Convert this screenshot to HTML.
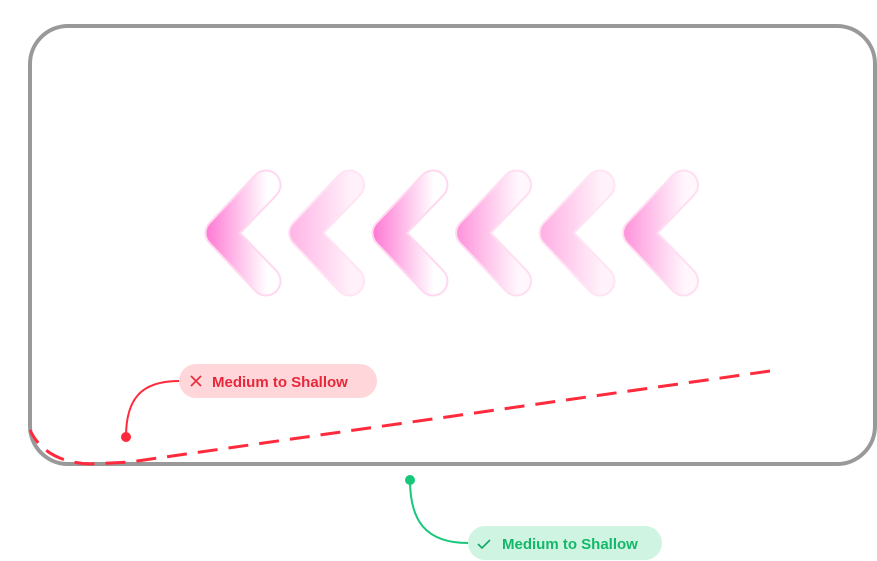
<!DOCTYPE html>
<html><head><style>
html,body{margin:0;padding:0;background:#fff;}
svg{display:block;}
text{font-family:"Liberation Sans",sans-serif;font-weight:bold;}
</style></head><body>
<svg width="877" height="561" viewBox="0 0 877 561" xmlns="http://www.w3.org/2000/svg">
<defs>
<linearGradient id="g" gradientUnits="userSpaceOnUse" x1="201" y1="0" x2="279" y2="0">
<stop offset="0" stop-color="#ff6ed0"/><stop offset="0.85" stop-color="#fff"/><stop offset="1" stop-color="#fff"/>
</linearGradient>
<path id="c" d="M266 185 L220 233 L266 281"/>
</defs>
<rect x="30" y="26" width="845" height="438" rx="38" fill="none" stroke="#999" stroke-width="4"/>
<g fill="none" stroke-linejoin="round" stroke-linecap="round">
<g stroke="#ffd8f0" stroke-width="31">
<use href="#c" opacity="1"/>
<use href="#c" transform="translate(83.5,0)" opacity="0.7"/>
<use href="#c" transform="translate(167,0)" opacity="1"/>
<use href="#c" transform="translate(250.5,0)" opacity="0.85"/>
<use href="#c" transform="translate(334,0)" opacity="0.7"/>
<use href="#c" transform="translate(417.5,0)" opacity="0.85"/>
</g>
<g stroke="url(#g)" stroke-width="27">
<use href="#c" opacity="1"/>
<use href="#c" transform="translate(83.5,0)" opacity="0.45"/>
<use href="#c" transform="translate(167,0)" opacity="1"/>
<use href="#c" transform="translate(250.5,0)" opacity="0.75"/>
<use href="#c" transform="translate(334,0)" opacity="0.5"/>
<use href="#c" transform="translate(417.5,0)" opacity="0.75"/>
</g>
</g>
<path d="M770 371 L130 462 L90 464 Q45 462 30 430" fill="none" stroke="#ff2a3c" stroke-width="3" stroke-dasharray="20 11"/>
<path d="M126 437 C126 400 140 381 179 381" fill="none" stroke="#ff2a3c" stroke-width="2"/>
<circle cx="126" cy="437" r="5" fill="#ff2a3c"/>
<rect x="179" y="364" width="198" height="34" rx="17" fill="#ffd7da"/>
<path d="M191 376 l10 10 M201 376 l-10 10" stroke="#e8283a" stroke-width="1.6"/>
<text x="212" y="387" font-size="15" fill="#e8283a">Medium to Shallow</text>
<path d="M410 480 C410 520 425 543 468 543" fill="none" stroke="#17c77a" stroke-width="2"/>
<circle cx="410" cy="480" r="5" fill="#17c77a"/>
<rect x="468" y="526" width="194" height="34" rx="17" fill="#cff4e2"/>
<path d="M478 544 l4 4 l8 -8" fill="none" stroke="#14a866" stroke-width="1.6"/>
<text x="502" y="549" font-size="15" fill="#14b86a">Medium to Shallow</text>
</svg>
</body></html>
